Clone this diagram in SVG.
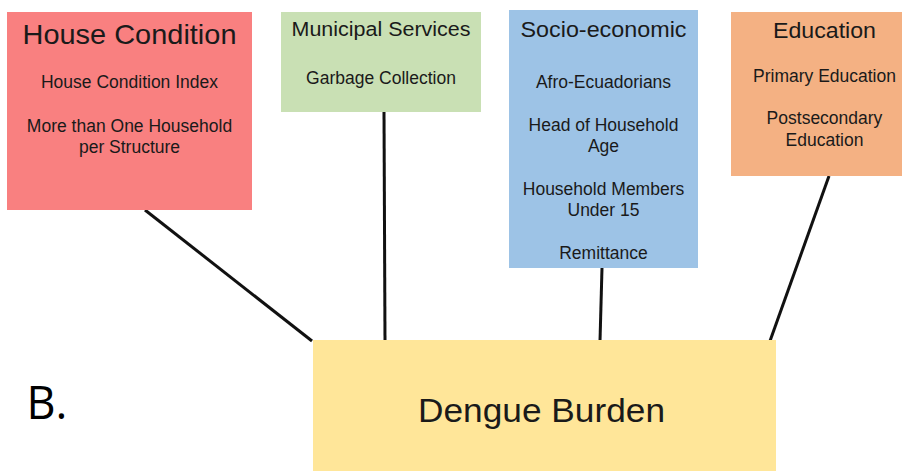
<svg xmlns="http://www.w3.org/2000/svg" width="906" height="471" viewBox="0 0 906 471">
<style>
text{font-family:"Liberation Sans",Arial,sans-serif;fill:#1a1a1a;text-anchor:middle}
.t{font-size:28px}
.s{font-size:17.5px}
.conn line{stroke:#111;stroke-width:3;stroke-linecap:butt}
</style>
<rect width="906" height="471" fill="#fff"/>
<g class="conn" id="connectors">
<line x1="145" y1="210" x2="312" y2="341"/>
<line x1="384" y1="112" x2="385" y2="341"/>
<line x1="602" y1="268" x2="600" y2="341"/>
<line x1="829" y1="176" x2="770" y2="341"/>
</g>
<g id="house">
<rect x="7" y="12" width="245" height="198" fill="#f98080"/>
<text x="129.5" y="44" class="t" textLength="214" lengthAdjust="spacingAndGlyphs">House Condition</text>
<text x="129.5" y="88" class="s">House Condition Index</text>
<text x="129.5" y="132" class="s">More than One Household</text>
<text x="129.5" y="153" class="s">per Structure</text>
</g>
<g id="municipal">
<rect x="281" y="12" width="200" height="100" fill="#c9e0b4"/>
<text x="381" y="36" style="font-size:20px" textLength="179" lengthAdjust="spacingAndGlyphs">Municipal Services</text>
<text x="381" y="84" class="s">Garbage Collection</text>
</g>
<g id="socio">
<rect x="509" y="10" width="189" height="258" fill="#9dc3e6"/>
<text x="603.5" y="37" style="font-size:22px" textLength="166" lengthAdjust="spacingAndGlyphs">Socio-economic</text>
<text x="603.5" y="88" class="s">Afro-Ecuadorians</text>
<text x="603.5" y="131" class="s">Head of Household</text>
<text x="603.5" y="152" class="s">Age</text>
<text x="603.5" y="195" class="s">Household Members</text>
<text x="603.5" y="216" class="s">Under 15</text>
<text x="603.5" y="259" class="s">Remittance</text>
</g>
<g id="education">
<rect x="731" y="12" width="171" height="164" fill="#f4b183"/>
<text x="824.5" y="38" style="font-size:22px" textLength="103" lengthAdjust="spacingAndGlyphs">Education</text>
<text x="824.5" y="82" class="s">Primary Education</text>
<text x="824.5" y="124" class="s">Postsecondary</text>
<text x="824.5" y="146" class="s">Education</text>
</g>
<g id="dengue">
<rect x="313" y="340" width="463" height="131" fill="#ffe699"/>
<text x="541.5" y="422" style="font-size:33px" textLength="247" lengthAdjust="spacingAndGlyphs">Dengue Burden</text>
</g>
<text x="47" y="419" style="font-size:45px;font-family:'Open Sans','Liberation Sans',sans-serif;fill:#000">B.</text>
</svg>
